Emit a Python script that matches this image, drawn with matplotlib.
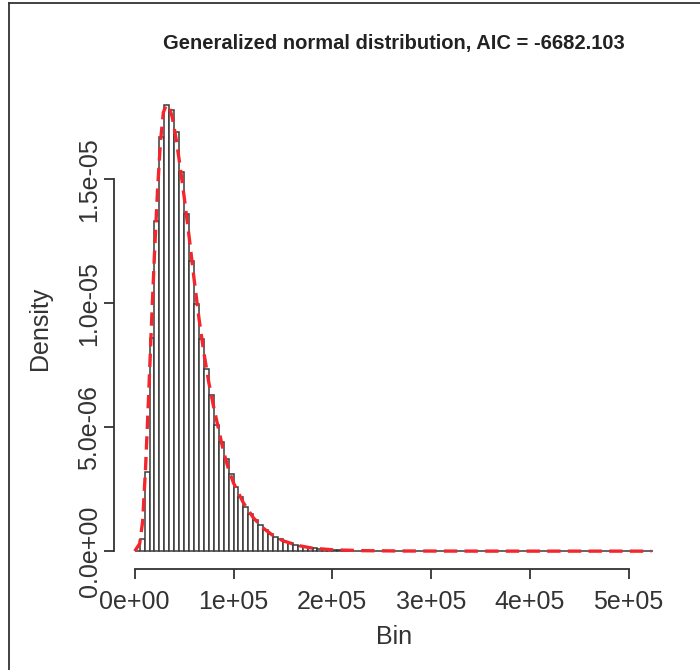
import numpy as np
import matplotlib.pyplot as plt
from matplotlib.lines import Line2D

plt.rcParams['font.family'] = ['Liberation Sans', 'DejaVu Sans']

# histogram: bins of width 5000 starting at 0, densities per bin
bin_width = 5000
density = [
    0.0, 0.48e-6, 3.2e-6, 8.6e-6, 13.3e-6, 16.7e-6, 18.0e-6, 17.8e-6, 16.9e-6, 15.3e-6,
    13.6e-6, 11.7e-6, 9.96e-6, 8.56e-6, 7.35e-6, 6.28e-6, 5.07e-6, 4.40e-6, 3.73e-6, 3.12e-6,
    2.6e-6, 2.2e-6, 1.8e-6, 1.5e-6, 1.27e-6, 1.05e-6, 0.85e-6, 0.70e-6, 0.57e-6, 0.47e-6,
    0.38e-6, 0.31e-6, 0.25e-6, 0.20e-6, 0.16e-6, 0.13e-6, 0.11e-6, 0.09e-6, 0.075e-6, 0.06e-6,
    0.05e-6, 0.04e-6, 0.035e-6, 0.03e-6, 0.025e-6, 0.02e-6, 0.015e-6, 0.012e-6, 0.01e-6, 0.008e-6,
    0.007e-6, 0.006e-6, 0.005e-6, 0.004e-6, 0.004e-6, 0.003e-6, 0.003e-6, 0.002e-6, 0.002e-6, 0.002e-6,
    0.001e-6, 0.001e-6, 0.001e-6, 0.001e-6, 0.001e-6, 0.0, 0.001e-6, 0.0, 0.0, 0.001e-6,
    0.0, 0.0, 0.0, 0.0, 0.001e-6, 0.0, 0.0, 0.0, 0.0, 0.0,
    0.0, 0.0, 0.0, 0.0, 0.0, 0.0, 0.0, 0.0, 0.0, 0.0,
    0.0, 0.0, 0.0, 0.0, 0.0, 0.0, 0.0, 0.0, 0.0, 0.0,
    0.0, 0.0, 0.0, 0.0, 0.001e-6,
]

# fitted generalized normal density
fit_x = [0, 5e3, 8e3, 11e3, 14e3, 17e3, 20e3, 23e3, 26e3, 29e3, 32e3, 35e3, 38e3,
         42e3, 46e3, 50e3, 55e3, 60e3, 65e3, 70e3, 75e3, 80e3, 85e3, 90e3, 95e3,
         100e3, 110e3, 120e3, 130e3, 140e3, 150e3, 165e3, 180e3, 200e3, 230e3,
         270e3, 350e3, 523e3]
fit_y = [0, 0.3e-6, 1.2e-6, 3.4e-6, 6.2e-6, 9.2e-6, 12.0e-6, 14.5e-6, 16.5e-6, 17.7e-6,
         18.0e-6, 17.9e-6, 17.5e-6, 16.6e-6, 15.5e-6, 14.3e-6, 12.7e-6, 11.0e-6, 9.4e-6,
         8.0e-6, 6.8e-6, 5.8e-6, 4.9e-6, 4.0e-6, 3.3e-6, 2.75e-6, 1.95e-6, 1.35e-6,
         0.93e-6, 0.63e-6, 0.42e-6, 0.23e-6, 0.12e-6, 0.055e-6, 0.02e-6, 0.006e-6,
         0.001e-6, 0.0]

xticks = [0, 1e5, 2e5, 3e5, 4e5, 5e5]
xtick_labels = ['0e+00', '1e+05', '2e+05', '3e+05', '4e+05', '5e+05']
yticks = [0, 5e-6, 1e-5, 1.5e-5]
ytick_labels = ['0.0e+00', '5.0e-06', '1.0e-05', '1.5e-05']

fig = plt.figure(figsize=(7, 6.7), dpi=100)
ax = fig.add_axes([114 / 700, 1 - 569 / 670, 560 / 700, (569 - 87) / 670])

edges = np.arange(len(density)) * bin_width
ax.bar(edges, density, width=bin_width, align='edge', color='white',
       edgecolor='#3a3a3a', linewidth=1.1)
ax.plot(fit_x, fit_y, color='#f2262c', linewidth=2.4, dashes=(4, 2.2))

xmax = len(density) * bin_width
ax.set_xlim(-0.04 * xmax, 1.04 * xmax)
top = max(density)
ax.set_ylim(-0.04 * top, 1.04 * top)

for s in ['top', 'right']:
    ax.spines[s].set_visible(False)
ax.spines['left'].set_bounds(0, 1.5e-5)
ax.spines['bottom'].set_bounds(0, 5e5)
for s in ['left', 'bottom']:
    ax.spines[s].set_color('#333333')
    ax.spines[s].set_linewidth(1.3)

ax.set_xticks(xticks)
ax.set_xticklabels(xtick_labels)
ax.set_yticks(yticks)
ax.set_yticklabels(ytick_labels, rotation=90, va='center')
ax.tick_params(axis='both', length=7, width=1.3, color='#333333',
               labelsize=18, labelcolor='#333333')
ax.tick_params(axis='x', pad=8)
ax.tick_params(axis='y', pad=2)

ax.set_xlabel('Bin', fontsize=18, color='#333333', labelpad=8)
ax.set_ylabel('Density', fontsize=18, color='#333333', labelpad=18)
ax.set_title('Generalized normal distribution, AIC = -6682.103',
             fontsize=14.5, fontweight='bold', color='#222222', pad=27)

# border lines along the top and left edges
fig.add_artist(Line2D([9 / 700, 9 / 700], [0, 1 - 3 / 670], color='#333333', lw=1.3))
fig.add_artist(Line2D([9 / 700, 1], [1 - 3 / 670, 1 - 3 / 670], color='#333333', lw=1.3))

fig.savefig('out.png', dpi=100)
